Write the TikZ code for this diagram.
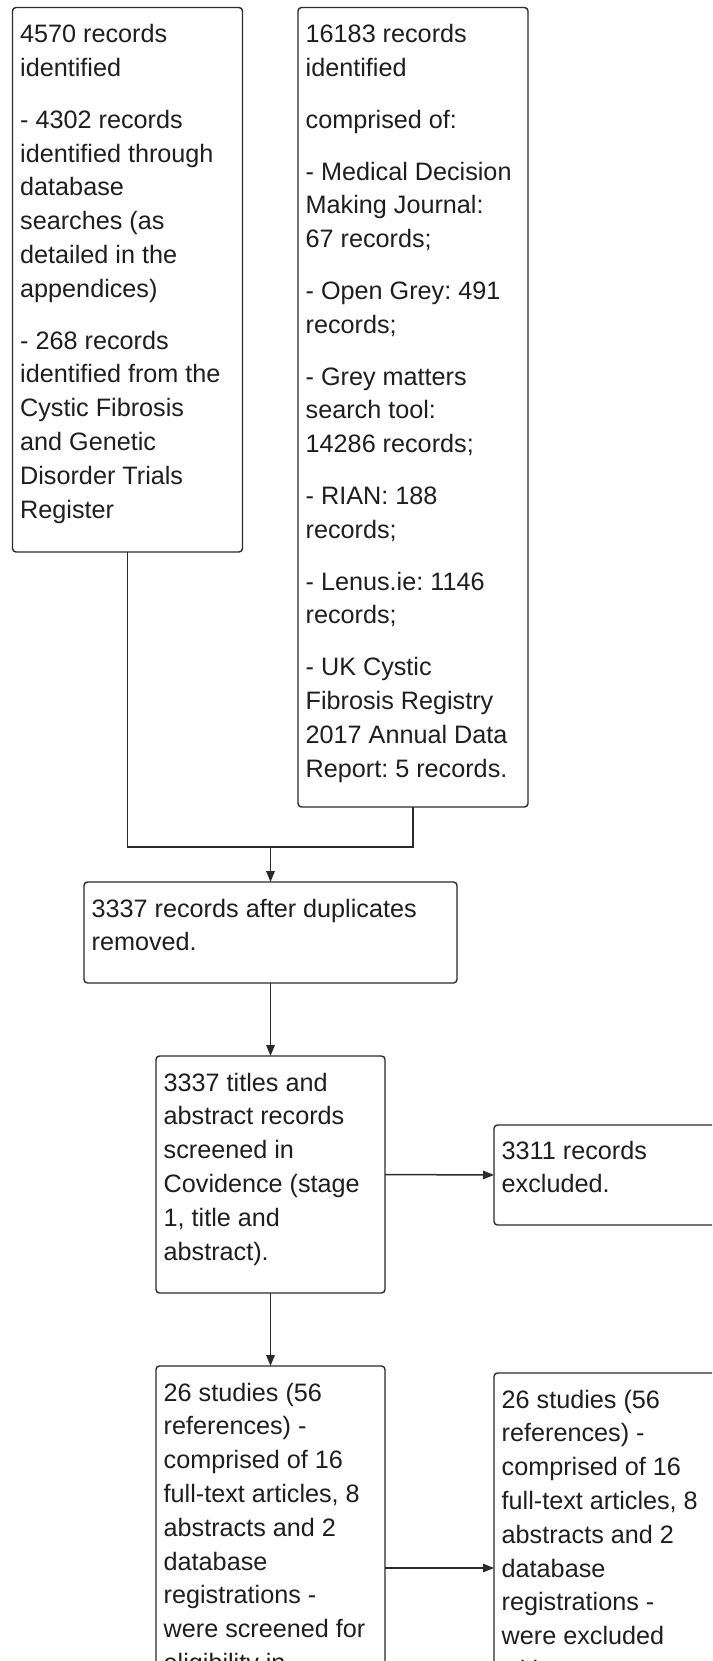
\documentclass[tikz,border=0pt]{standalone}
\usepackage{fontspec}
\setmainfont{Liberation Sans}
\usetikzlibrary{arrows.meta}
\definecolor{linec}{HTML}{2A2A2A}
\definecolor{textc}{HTML}{1E1E1E}
\tikzset{
  box/.style={draw=linec, line width=1.4pt, rounded corners=3.5pt, inner sep=0pt, outer sep=0pt, anchor=north west, fill=white},
  txt/.style={anchor=north west, inner sep=0pt, align=left, font=\fontsize{25.2pt}{33.8pt}\selectfont\frenchspacing, text=textc},
  ln/.style={draw=linec, line width=1.5pt},
  arr/.style={draw=linec, line width=1.5pt, -{Triangle[length=11pt,width=8.5pt]}},
}
\begin{document}
\begin{tikzpicture}[x=1pt,y=-1pt]
\useasboundingbox (0,0) rectangle (712,1661);
\fill[white] (0,0) rectangle (712,1661);
\clip (0,0) rectangle (712,1661);

% boxes
\node[box, minimum width=230pt, minimum height=544.5pt] (A) at (12.5,7.5) {};
\node[box, minimum width=230pt, minimum height=799.5pt] (B) at (298,7.5) {};
\node[box, minimum width=373pt, minimum height=101pt] (C) at (84,882) {};
\node[box, minimum width=229pt, minimum height=237pt] (T) at (156,1056) {};
\node[box, minimum width=300pt, minimum height=100pt] (X) at (494,1125) {};
\node[box, minimum width=229pt, minimum height=600pt] (D) at (156,1366) {};
\node[box, minimum width=300pt, minimum height=600pt] (E) at (494,1373) {};

% texts
\node[txt] (At) at (20,18.8) {\strut 4570 records\\identified\\[18pt]- 4302 records\\identified through\\database\\searches (as\\detailed in the\\appendices)\\[18pt]- 268 records\\identified from the\\Cystic Fibrosis\\and Genetic\\Disorder Trials\\Register};
\node[txt] (Bt) at (305.5,18.8) {\strut 16183 records\\identified\\[18pt]comprised of:\\[18pt]- Medical Decision\\Making Journal:\\67 records;\\[18pt]- Open Grey: 491\\records;\\[18pt]- Grey matters\\search tool:\\14286 records;\\[18pt]- RIAN: 188\\records;\\[18pt]- Lenus.ie: 1146\\records;\\[18pt]- UK Cystic\\Fibrosis Registry\\2017 Annual Data\\Report: 5 records.};
\node[txt] (Ct) at (91.5,893.3) {\strut 3337 records after duplicates\\removed.};
\node[txt] (Tt) at (163.5,1067.3) {\strut 3337 titles and\\abstract records\\screened in\\Covidence (stage\\1, title and\\abstract).};
\node[txt] (Xt) at (501.5,1135.3) {\strut 3311 records\\excluded.};
\node[txt] (Dt) at (163.5,1377.3) {\strut 26 studies (56\\references) -\\comprised of 16\\full-text articles, 8\\abstracts and 2\\database\\registrations -\\were screened for\\eligibility in};
\node[txt] (Et) at (501.5,1384.3) {\strut 26 studies (56\\references) -\\comprised of 16\\full-text articles, 8\\abstracts and 2\\database\\registrations -\\were excluded\\with};

% connectors
\coordinate (j) at (270.5,847);
\coordinate (de) at (0,1568);
\draw[ln] (A.south) |- (B.south |- j) -- (B.south);
\draw[arr] (C.north |- j) -- (C.north);
\draw[arr] (C.south) -- (T.north);
\draw[arr] (T.east) -- (X.west);
\draw[arr] (T.south) -- (D.north);
\draw[arr] (D.east |- de) -- (E.west |- de);
\end{tikzpicture}
\end{document}
